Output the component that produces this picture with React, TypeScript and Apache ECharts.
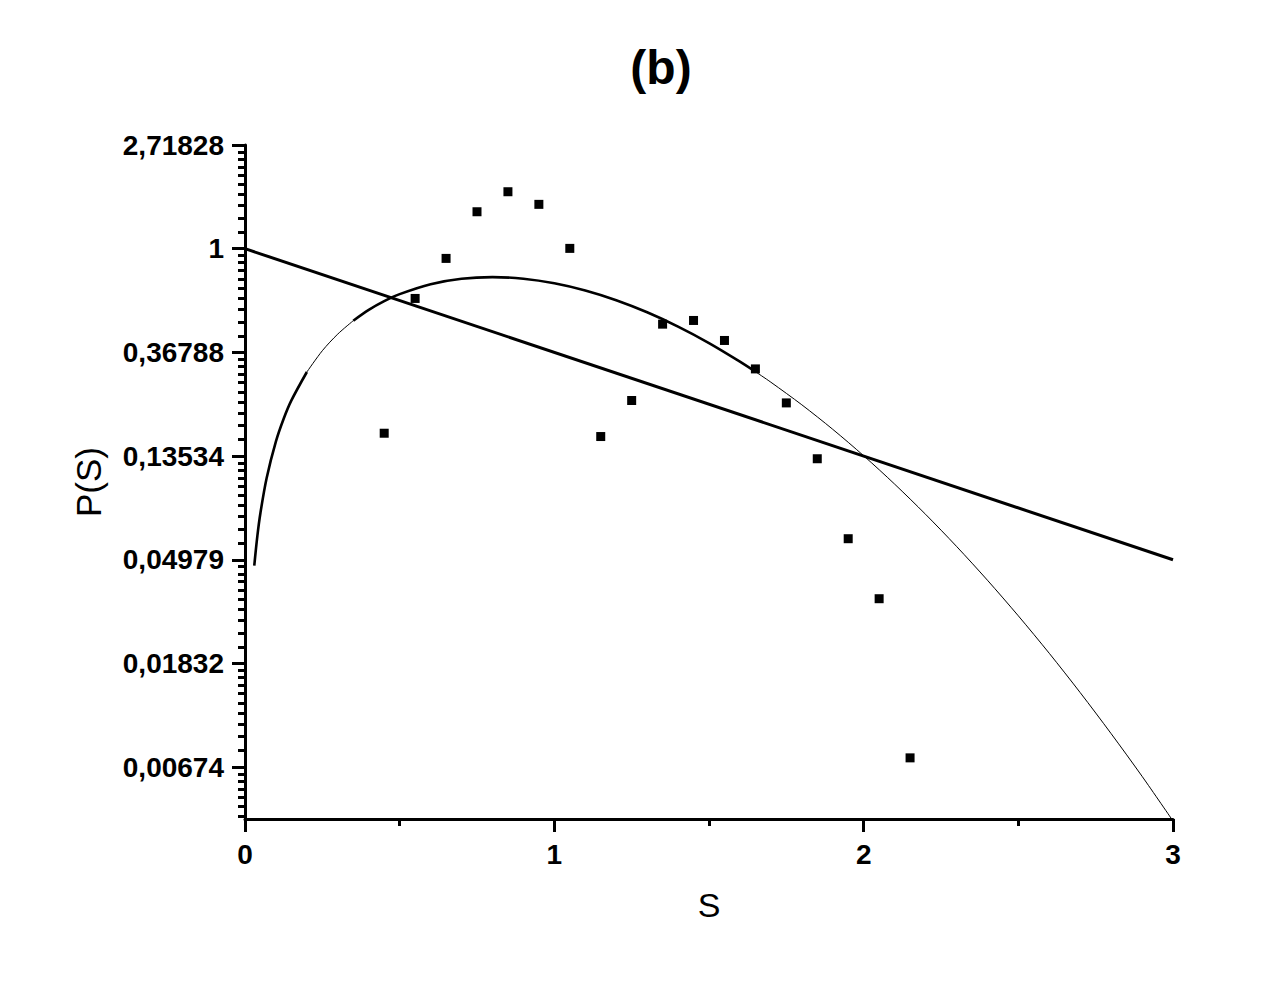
import React, { useEffect, useRef } from "react";
import * as echarts from "echarts";

// ---- data ----
const scatterS = [0.45, 0.55, 0.65, 0.75, 0.85, 0.95, 1.05, 1.15, 1.25, 1.35, 1.45, 1.55, 1.65, 1.75, 1.85, 1.95, 2.05, 2.15];
const scatterP = [0.1687, 0.6189, 0.9106, 1.428, 1.732, 1.5335, 1.003, 0.1634, 0.2313, 0.483, 0.5005, 0.4127, 0.3137, 0.226, 0.1319, 0.061, 0.0342, 0.00737];

const poissonS = [0, 3];
const poissonP = [1, 0.04979];

const wignerS = [0.03, 0.04, 0.05, 0.07, 0.1, 0.125, 0.15, 0.2, 0.25, 0.3, 0.35, 0.4, 0.45, 0.5, 0.6, 0.7, 0.8, 0.9, 1.0, 1.1, 1.2, 1.3, 1.4, 1.5, 1.6, 1.65, 1.7, 1.8, 1.9, 2.0, 2.1, 2.2, 2.3, 2.4, 2.5, 2.6, 2.7, 2.8, 2.9, 3.0];
const wignerP = [0.04709, 0.06275, 0.07839, 0.10953, 0.15585, 0.19395, 0.23149, 0.30444, 0.37389, 0.43908, 0.49935, 0.55412, 0.60292, 0.64538, 0.71036, 0.74832, 0.76019, 0.74832, 0.71619, 0.66803, 0.60831, 0.54155, 0.47178, 0.40251, 0.33653, 0.30546, 0.27593, 0.22193, 0.17522, 0.13576, 0.1033, 0.07721, 0.05668, 0.04089, 0.02899, 0.0202, 0.01383, 0.00931, 0.00617, 0.00401];

const xTickLabels = ["0", "1", "2", "3"];
const yTickValues = [0.00674, 0.01832, 0.04979, 0.13534, 0.36788, 1, 2.71828];
const yTickLabels = ["0,00674", "0,01832", "0,04979", "0,13534", "0,36788", "1", "2,71828"];
const yAxisMin = 0.004087;
const yAxisMax = 2.71828;

// ---- styling ----
const FONT = '"Liberation Sans", Arial, Helvetica, sans-serif';
const wignerSegments = [
  { from: 0.03, to: 0.2, width: 2.6 },
  { from: 0.2, to: 0.35, width: 1 },
  { from: 0.35, to: 1.65, width: 2.6 },
  { from: 1.65, to: 3.0, width: 1 },
];

function minorTickValues(): number[] {
  const majors = [yTickValues[0] / 2.71828, ...yTickValues];
  const out: number[] = [];
  for (let i = 0; i < majors.length - 1; i++) {
    const lo = majors[i];
    const hi = majors[i + 1];
    const step = (hi - lo) / 10;
    for (let k = 1; k < 10; k++) {
      const v = lo + k * step;
      if (v > yAxisMin && v < yAxisMax) out.push(v);
    }
  }
  return out;
}

export default function App() {
  const ref = useRef<HTMLDivElement>(null);

  useEffect(() => {
    document.body.style.margin = "0";
    if (!ref.current) return;
    const chart = echarts.init(ref.current, undefined, { renderer: "svg" });

    const wignerSeries = wignerSegments.map((seg) => ({
      type: "line",
      data: wignerS
        .map((s, i) => [s, wignerP[i]])
        .filter((d) => d[0] >= seg.from - 1e-9 && d[0] <= seg.to + 1e-9),
      showSymbol: false,
      symbol: "none",
      smooth: 0.3,
      lineStyle: { color: "#000", width: seg.width },
      z: 3,
    }));

    const option: any = {
      animation: false,
      backgroundColor: "#ffffff",
      title: {
        text: "(b)",
        left: 656,
        top: 38,
        textAlign: "center",
        textStyle: { fontFamily: FONT, fontSize: 48, fontWeight: "bold", color: "#000" },
      },
      grid: { left: 245, right: 98, top: 145, bottom: 181, containLabel: false, outerBoundsMode: "none" },
      xAxis: {
        type: "value",
        min: 0,
        max: 3,
        interval: 1,
        name: "S",
        nameLocation: "middle",
        nameGap: 69,
        nameTextStyle: { fontFamily: FONT, fontSize: 34, color: "#000" },
        axisLine: { show: true, onZero: false, lineStyle: { color: "#000", width: 3 } },
        axisTick: { show: true, length: 13, lineStyle: { color: "#000", width: 3 } },
        minorTick: { show: true, splitNumber: 2, length: 7, lineStyle: { color: "#000", width: 3 } },
        splitLine: { show: false },
        minorSplitLine: { show: false },
        axisLabel: {
          fontFamily: FONT,
          fontSize: 28,
          fontWeight: "bold",
          color: "#000",
          margin: 21,
          formatter: (v: number) => xTickLabels[Math.round(v)] ?? "",
        },
      },
      yAxis: [
        {
          type: "log",
          logBase: Math.E,
          min: yAxisMin,
          max: yAxisMax,
          position: "left",
          name: "P(S)",
          nameLocation: "middle",
          nameGap: 139,
          nameTextStyle: { fontFamily: FONT, fontSize: 35, color: "#000" },
          axisLine: { show: true, onZero: false, lineStyle: { color: "#000", width: 3 } },
          axisTick: { show: true, customValues: yTickValues, length: 13, lineStyle: { color: "#000", width: 3 } },
          splitLine: { show: false },
          axisLabel: {
            customValues: yTickValues,
            fontFamily: FONT,
            fontSize: 28,
            fontWeight: "bold",
            color: "#000",
            margin: 21,
            formatter: (v: number) => {
              let best = -1;
              let bestD = Infinity;
              yTickValues.forEach((t, i) => {
                const d = Math.abs(Math.log(t) - Math.log(v));
                if (d < bestD) {
                  bestD = d;
                  best = i;
                }
              });
              return bestD < 0.01 ? yTickLabels[best] : "";
            },
          },
        },
        {
          type: "log",
          logBase: Math.E,
          min: yAxisMin,
          max: yAxisMax,
          position: "left",
          offset: 0,
          axisLine: { show: false },
          axisLabel: { show: false },
          splitLine: { show: false },
          axisTick: { show: true, customValues: minorTickValues(), length: 7, lineStyle: { color: "#000", width: 3 } },
        },
      ],
      series: [
        {
          type: "line",
          data: poissonS.map((s, i) => [s, poissonP[i]]),
          showSymbol: false,
          symbol: "none",
          lineStyle: { color: "#000", width: 3 },
          z: 3,
        },
        ...wignerSeries,
        {
          type: "scatter",
          data: scatterS.map((s, i) => [s, scatterP[i]]),
          symbol: "rect",
          symbolSize: 9,
          itemStyle: { color: "#000", opacity: 1 },
          z: 4,
        },
      ],
    };

    chart.setOption(option);
    return () => chart.dispose();
  }, []);

  return <div ref={ref} style={{ width: 1271, height: 1000 }} />;
}
